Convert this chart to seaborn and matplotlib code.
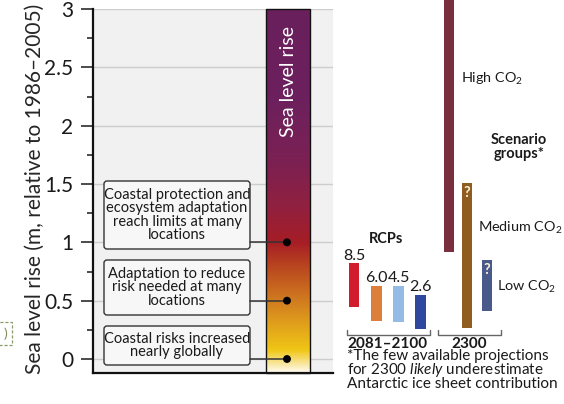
import numpy as np
import pandas as pd
import matplotlib
matplotlib.use("Agg")
import matplotlib.pyplot as plt
import seaborn as sns
from matplotlib.colors import LinearSegmentedColormap
from matplotlib.patches import FancyBboxPatch, Rectangle

# ---------------- data ----------------
risk_levels = [1.0, 0.5, 0.0]
risk_texts = [
    "Coastal protection and\necosystem adaptation\nreach limits at many\nlocations",
    "Adaptation to reduce\nrisk needed at many\nlocations",
    "Coastal risks increased\nnearly globally",
]
rcp_names = ["8.5", "6.0", "4.5", "2.6"]
rcp_low = [0.45, 0.33, 0.32, 0.26]
rcp_high = [0.82, 0.63, 0.63, 0.55]
group_names = ["High CO$_2$", "Medium CO$_2$", "Low CO$_2$"]
group_low = [0.92, 0.27, 0.41]
group_high = [3.59, 1.51, 0.85]
group_uncertain = [False, True, True]
y_ticks = [0, 0.5, 1, 1.5, 2, 2.5, 3]
y_tick_labels = ["0", "0.5", "1", "1.5", "2", "2.5", "3"]

# ---------------- style ----------------
sns.set_style("ticks")
plt.rcParams["font.family"] = ["Lato", "DejaVu Sans"]
plt.rcParams["mathtext.fontset"] = "custom"
plt.rcParams["mathtext.rm"] = "Lato"
plt.rcParams["mathtext.it"] = "Lato:italic"
plt.rcParams["mathtext.bf"] = "Lato:bold"
plt.rcParams["text.color"] = "#1a1a1a"

rcp_colors = ["#d01c2c", "#dc7f3a", "#93bbe6", "#2f479c"]
group_colors = ["#7a2f3e", "#8f5d20", "#48598a"]

W, H = 564, 404
Y0, Y1 = -0.12, 3.0
TOP_PX, BOT_PX = 9, 373


def py(p):
    """pixel row -> data y (layout helper)"""
    return Y1 - (p - TOP_PX) * (Y1 - Y0) / (BOT_PX - TOP_PX)


fig = plt.figure(figsize=(W / 100, H / 100), dpi=100)
fig.patch.set_facecolor("white")
ax = fig.add_axes([93 / W, (H - BOT_PX) / H, 240 / W, (BOT_PX - TOP_PX) / H])
ax.set_facecolor("#f1f1f1")

# gradient sea level bar
stops = [(-0.12, "#fffbf2"), (-0.04, "#f9e597"), (0.07, "#f0c616"), (0.3, "#e09f1c"),
         (0.55, "#cd7220"), (0.8, "#b8441f"), (1.0, "#a61d26"), (1.3, "#91203f"),
         (1.7, "#7b2153"), (2.2, "#6d205d"), (3.0, "#6a1f5e")]
cmap = LinearSegmentedColormap.from_list("slr", [((v - Y0) / (Y1 - Y0), c) for v, c in stops])
grad = np.linspace(0, 1, 512).reshape(-1, 1)
BX0, BX1 = 265.7, 310
ax.imshow(grad, cmap=cmap, extent=(BX0, BX1, Y0, Y1), origin="lower", aspect="auto", zorder=2)
ax.add_patch(Rectangle((BX0, Y0), BX1 - BX0, Y1 - Y0, fill=False, ec="#111111", lw=1.0,
                       zorder=3, clip_on=False))
ax.text((BX0 + BX1) / 2 + 0.5, py(81), "Sea level rise", rotation=90, color="white",
        ha="center", va="center", fontsize=14, zorder=4)

# boxes, connectors and dots
box_px = [(181, 249), (260, 315), (326, 365)]
DOT_X = 287
for (top, bot), txt, lvl in zip(box_px, risk_texts, risk_levels):
    yt, yb = py(top), py(bot)
    ax.add_patch(FancyBboxPatch((104, yb), 146, yt - yb,
                                boxstyle="round,pad=0,rounding_size=3",
                                mutation_aspect=(Y1 - Y0) / (BOT_PX - TOP_PX),
                                fc="#f7f7f7", ec="#333333", lw=1.0, zorder=4))
    ax.text(177, (yt + yb) / 2, txt, ha="center", va="center", fontsize=10.5,
            linespacing=0.95, zorder=5)
    ax.plot([250, DOT_X], [lvl, lvl], color="#333333", lw=1.1, zorder=4)
sns.scatterplot(x=[DOT_X] * len(risk_levels), y=risk_levels, ax=ax, color="black",
                s=32, edgecolor="none", zorder=6, legend=False)

ax.set_xlim(93, 333)
ax.set_ylim(Y0, Y1)
ax.set_xticks([])
ax.set_yticks(y_ticks)
ax.set_yticklabels(y_tick_labels)
ax.set_yticks(np.arange(0.25, 3.0, 0.5), minor=True)
ax.grid(axis="y", which="major", color="#cdcdcd", lw=1.0)
ax.set_axisbelow(True)
ax.tick_params(axis="y", which="major", length=8.6, width=1.1, pad=5.5, labelsize=15,
               color="#1a1a1a", labelcolor="#1a1a1a")
ax.tick_params(axis="y", which="minor", length=4.3, width=1.1, color="#1a1a1a")
for s in ["top", "right"]:
    ax.spines[s].set_visible(False)
for s in ["left", "bottom"]:
    ax.spines[s].set_linewidth(1.6)
    ax.spines[s].set_color("#111111")
ax.set_xlabel("")
ax.set_ylabel("Sea level rise (m, relative to 1986–2005)", fontsize=15)
ax.yaxis.set_label_coords(-0.2, 0.505)

# ---------------- right-hand projections ----------------
ax2 = fig.add_axes([0, (H - BOT_PX) / H, 1, (BOT_PX - TOP_PX) / H])
ax2.patch.set_alpha(0)
bar_x = [354.2, 376.3, 398.5, 420.3, 449, 467, 487]
lows = rcp_low + group_low
highs = rcp_high + group_high
df = pd.DataFrame({"x": bar_x, "span": np.array(highs) - np.array(lows)})
sns.barplot(data=df, x="x", y="span", native_scale=True, width=10.5 / 18,
            bottom=np.array(lows), errorbar=None, ax=ax2, color="gray")
for patch, c in zip(ax2.patches, rcp_colors + group_colors):
    patch.set_facecolor(c)
    patch.set_edgecolor("none")
    patch.set_clip_on(False)
ax2.set_xlim(0, W)
ax2.set_ylim(Y0, Y1)
ax2.axis("off")

# RCP labels
for x, hi, name in zip(bar_x[:4], rcp_high, rcp_names):
    ax2.annotate(name, (x + 0.5, hi), xytext=(0, 0.5), textcoords="offset points",
                 ha="center", va="bottom", fontsize=11.5)
ax2.text(386, py(239), "RCPs", ha="center", va="center", fontsize=10.5, fontweight="bold")

# scenario group labels
label_pos = [(461, py(82.5)), (477.5, py(232)), (496.7, py(291))]
for (lx, ly), name in zip(label_pos, group_names):
    ax2.text(lx, ly, name, ha="left", va="baseline", fontsize=10.4)
for x, hi, unc in zip(bar_x[4:], group_high, group_uncertain):
    if unc:
        ax2.annotate("?", (x, hi), xytext=(0, -2), textcoords="offset points",
                     ha="center", va="top", fontsize=10.5, color="#fff3d6",
                     fontweight="bold")
ax2.text(519, py(147), "Scenario\ngroups*", ha="center", va="center", fontsize=10.5,
         fontweight="bold", linespacing=1.0)

# brackets
for x0, x1 in [(347, 430), (437.7, 500.7)]:
    ax2.plot([x0, x0, x1, x1], [py(330), py(334.5), py(334.5), py(330)],
             color="#666666", lw=1.0, clip_on=False)
ax2.text(387.7, py(343.5), "2081–2100", ha="center", va="center", fontsize=11,
         fontweight="bold")
ax2.text(469, py(343.5), "2300", ha="center", va="center", fontsize=11, fontweight="bold")
ax2.text(347, py(349), "*The few available projections\nfor 2300 $\\mathit{likely}$ underestimate\n"
         "Antarctic ice sheet contribution", ha="left", va="top", fontsize=11,
         linespacing=0.84)

# partially visible dashed tag at left edge
ax2.add_patch(Rectangle((-8, py(345)), 20, py(322) - py(345), fill=False, ec="#8c9a6a",
                        lw=0.9, ls=(0, (2.5, 1.5)), clip_on=False))
ax2.text(5, py(333.5), ")", ha="center", va="center", fontsize=10, color="#7f8f55")

fig.savefig("out.png", dpi=100)
